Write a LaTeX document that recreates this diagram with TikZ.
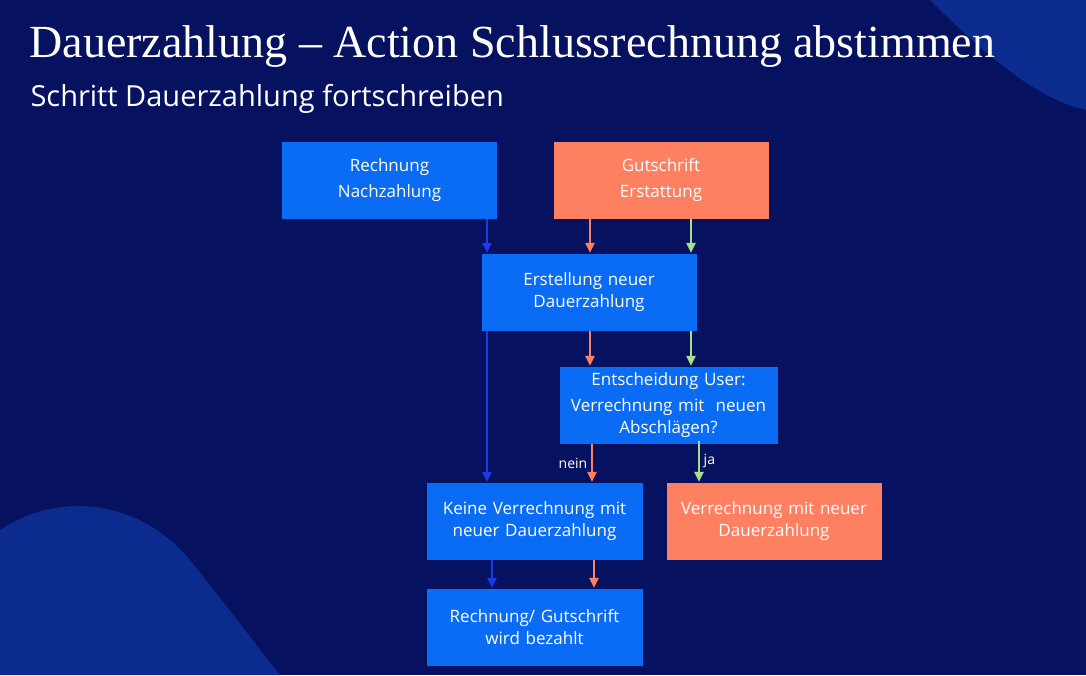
\documentclass[tikz,border=0pt]{standalone}
\usepackage{fontspec}
\setmainfont{Liberation Serif}
\newfontfamily\uifont{Open Sans}
\usetikzlibrary{arrows.meta}
\definecolor{bgblue}{HTML}{061160}
\definecolor{decoblue}{HTML}{0B2B8E}
\definecolor{boxblue}{HTML}{0A6CF5}
\definecolor{salmon}{HTML}{FF7F61}
\definecolor{arrblue}{HTML}{1C3BE6}
\definecolor{arrgreen}{HTML}{A8E08A}
\tikzset{
  stepbox/.style={draw=bgblue, fill=boxblue, minimum width=216pt, minimum height=78pt,
    text width=205pt, align=center, text=white, font=\uifont\fontsize{17}{22}\selectfont, inner sep=0pt},
  altbox/.style={stepbox, fill=salmon},
  flow/.style={-{Triangle[length=10pt,width=9pt]}, line width=2.8pt},
  lbl/.style={text=white, font=\uifont\fontsize{14}{16}\selectfont}
}
\begin{document}
\begin{tikzpicture}[x=1pt,y=-1pt]
  \fill[bgblue] (0,0) rectangle (1086,675);
  \useasboundingbox (0,0) rectangle (1086,675);
  \fill[decoblue] (930,0) .. controls (990,60) and (1040,100) .. (1086,110) -- (1086,0) -- cycle;
  \fill[decoblue] (0,530) .. controls (60,490) and (140,500) .. (190,560) .. controls (230,610) and (260,650) .. (280,675) -- (0,675) -- cycle;

  \node[anchor=west, text=white, font=\fontsize{46}{50}\selectfont] (title) at (26,47) {Dauerzahlung – Action Schlussrechnung abstimmen};
  \node[anchor=west, text=white, font=\uifont\fontsize{29}{32}\selectfont] (subtitle) at (27,99) {Schritt Dauerzahlung fortschreiben};

  \node[stepbox] (rechnung) at (389.5,180) {Rechnung\\[4pt]Nachzahlung};
  \node[altbox] (gutschrift) at (661,180) {Gutschrift\\[4pt]Erstattung};
  \node[stepbox] (erstellung) at (589,292) {Erstellung neuer\\Dauerzahlung};
  \node[stepbox, minimum width=219pt] (entscheidung) at (668.5,405) {Entscheidung User:\\[4pt]Verrechnung mit~ neuen\\Abschlägen?};
  \node[stepbox, minimum width=217pt] (keine) at (534.5,521) {Keine Verrechnung mit\\neuer Dauerzahlung};
  \node[altbox] (verrechnung) at (774,521) {Verrechnung mit neuer\\Dauerzahlung};
  \node[stepbox, minimum width=217pt] (bezahlt) at (534.5,627) {Rechnung/ Gutschrift\\wird bezahlt};

  \draw[flow, arrblue] (rechnung.south -| 487,0) -- (erstellung.north -| 487,0);
  \draw[flow, salmon] (gutschrift.south -| 590,0) -- (erstellung.north -| 590,0);
  \draw[flow, arrgreen] (gutschrift.south -| 691,0) -- (erstellung.north -| 691,0);

  \draw[flow, arrblue] (erstellung.south -| 487,0) -- (keine.north -| 487,0);
  \draw[flow, salmon] (erstellung.south -| 590,0) -- (entscheidung.north -| 590,0);
  \draw[flow, arrgreen] (erstellung.south -| 691,0) -- (entscheidung.north -| 691,0);

  \draw[flow, salmon] (entscheidung.south -| 592,0) -- node[lbl, left] {nein} (keine.north -| 592,0);
  \draw[flow, arrgreen] ([yshift=3pt]entscheidung.south -| 699,0) -- node[lbl, right] {ja} (verrechnung.north -| 699,0);

  \draw[flow, arrblue] (keine.south -| 492,0) -- (bezahlt.north -| 492,0);
  \draw[flow, salmon] (keine.south -| 594,0) -- (bezahlt.north -| 594,0);
\end{tikzpicture}
\end{document}
